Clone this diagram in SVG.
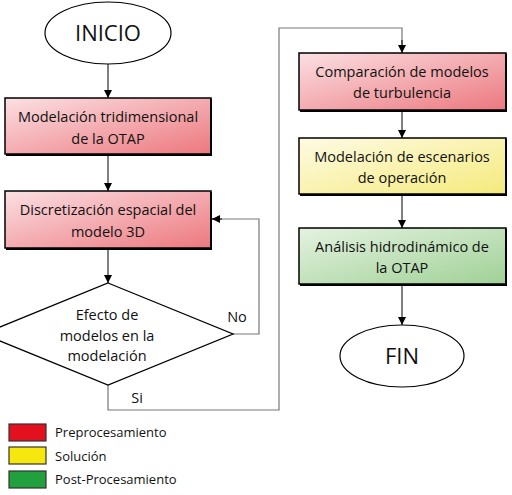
<svg xmlns="http://www.w3.org/2000/svg" width="512" height="495" viewBox="0 0 512 495">
<defs>
<linearGradient id="gr" x1="0" y1="0" x2="1" y2="1"><stop offset="0" stop-color="#fbe0e3"/><stop offset="1" stop-color="#ec787e"/></linearGradient>
<linearGradient id="gy" x1="0" y1="0" x2="1" y2="1"><stop offset="0" stop-color="#fefbe4"/><stop offset="1" stop-color="#f5ea7c"/></linearGradient>
<linearGradient id="gg" x1="0" y1="0" x2="1" y2="1"><stop offset="0" stop-color="#e4f2e0"/><stop offset="1" stop-color="#a0d196"/></linearGradient>
<marker id="ah" viewBox="0 0 10 10" refX="10" refY="5" markerWidth="8" markerHeight="8" markerUnits="userSpaceOnUse" orient="auto"><path d="M0,0 L10,5 L0,10 z" fill="#000"/></marker>
</defs>
<style>
.box{stroke:#000;stroke-width:1.5}
.sh{fill:none;stroke:#000;stroke-width:2}
.t{font-family:"Open Sans","Liberation Sans",sans-serif;font-size:14.5px;fill:#111;text-anchor:middle}
.big{font-family:"Open Sans","Liberation Sans",sans-serif;font-size:22px;fill:#111;text-anchor:middle}
.lg{font-family:"Open Sans","Liberation Sans",sans-serif;font-size:13px;fill:#111}
.c{fill:none;stroke:#000;stroke-width:1}
.cg{fill:none;stroke:#777;stroke-width:1.2}
</style>
<rect width="512" height="495" fill="#fff"/>
<g id="connectors">
<line class="c" x1="108" y1="64" x2="108" y2="98" marker-end="url(#ah)"/>
<line class="c" x1="108" y1="155" x2="108" y2="191" marker-end="url(#ah)"/>
<line class="c" x1="108" y1="249" x2="108" y2="283" marker-end="url(#ah)"/>
<polyline class="cg" points="233,334 259,334 259,219 212,219"/>
<line class="c" x1="222" y1="219" x2="212" y2="219" marker-end="url(#ah)"/>
<polyline class="cg" points="108,385 108,410 279,410 279,28 402,28 402,46"/>
<line class="c" x1="402" y1="40" x2="402" y2="53" marker-end="url(#ah)"/>
<line class="c" x1="402" y1="111" x2="402" y2="138" marker-end="url(#ah)"/>
<line class="c" x1="402" y1="195" x2="402" y2="228" marker-end="url(#ah)"/>
<line class="c" x1="402" y1="285" x2="402" y2="325" marker-end="url(#ah)"/>
<text class="t" x="237" y="322">No</text>
<text class="t" x="137" y="403">Si</text>
</g>
<g id="inicio">
<ellipse cx="108" cy="33" rx="63" ry="31" fill="#fff" stroke="#000" stroke-width="1.2"/>
<text class="big" x="108" y="41">INICIO</text>
</g>
<g id="modelacion">
<rect class="box" x="5" y="98" width="206" height="56" fill="url(#gr)"/>
<polyline class="sh" points="211,99 211,155 6,155"/>
<text class="t" x="108" y="122">Modelación tridimensional</text>
<text class="t" x="108" y="144">de la OTAP</text>
</g>
<g id="discretizacion">
<rect class="box" x="5" y="191" width="206" height="57" fill="url(#gr)"/>
<polyline class="sh" points="211,192 211,249 6,249"/>
<text class="t" x="108" y="215">Discretización espacial del</text>
<text class="t" x="108" y="237">modelo 3D</text>
</g>
<g id="decision">
<polygon points="108,283 233,334 108,385 -17,334" fill="#fff" stroke="#000" stroke-width="1.3"/>
<text class="t" x="107" y="320">Efecto de</text>
<text class="t" x="107" y="341">modelos en la</text>
<text class="t" x="107" y="361">modelación</text>
</g>
<g id="comparacion">
<rect class="box" x="299" y="53" width="207" height="57" fill="url(#gr)"/>
<polyline class="sh" points="506,54 506,111 300,111"/>
<text class="t" x="402" y="77">Comparación de modelos</text>
<text class="t" x="402" y="98">de turbulencia</text>
</g>
<g id="escenarios">
<rect class="box" x="299" y="138" width="207" height="56" fill="url(#gy)"/>
<polyline class="sh" points="506,139 506,195 300,195"/>
<text class="t" x="402" y="162">Modelación de escenarios</text>
<text class="t" x="402" y="183">de operación</text>
</g>
<g id="analisis">
<rect class="box" x="299" y="228" width="207" height="56" fill="url(#gg)"/>
<polyline class="sh" points="506,229 506,285 300,285"/>
<text class="t" x="402" y="252">Análisis hidrodinámico de</text>
<text class="t" x="402" y="273">la OTAP</text>
</g>
<g id="fin">
<ellipse cx="402" cy="356" rx="62" ry="31" fill="#fff" stroke="#000" stroke-width="1.2"/>
<text class="big" x="402" y="364">FIN</text>
</g>
<g id="legend">
<rect x="9" y="424" width="37" height="17" fill="#e3101d" stroke="#333" stroke-width="1.2"/>
<rect x="9" y="447" width="37" height="17" fill="#f6e80f" stroke="#333" stroke-width="1.2"/>
<rect x="9" y="471" width="37" height="17" fill="#22a03d" stroke="#333" stroke-width="1.2"/>
<text class="lg" x="55" y="437">Preprocesamiento</text>
<text class="lg" x="55" y="461">Solución</text>
<text class="lg" x="55" y="484">Post-Procesamiento</text>
</g>
</svg>
